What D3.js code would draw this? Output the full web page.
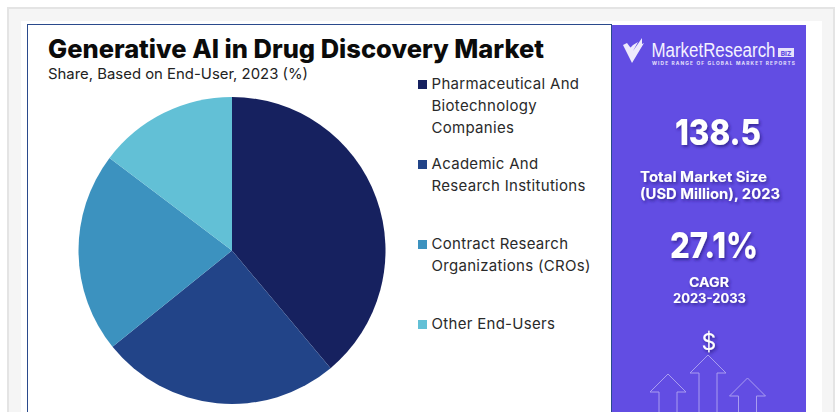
<!DOCTYPE html>
<html>
<head>
<meta charset="utf-8">
<script src="https://cdn.jsdelivr.net/npm/d3@7"></script>
<style>
html,body{margin:0;padding:0;background:#fff;overflow:hidden}
svg{display:block}
text{font-family:Inter,"Noto Sans",sans-serif}
</style>
</head>
<body>
<svg id="chart" width="836" height="412"></svg>
<script>
const categories = ["Pharmaceutical And Biotechnology Companies", "Academic And Research Institutions", "Contract Research Organizations (CROs)", "Other End-Users"];
const shares = [38.9, 25.3, 21.1, 14.7];
const legendLines = [["Pharmaceutical And", "Biotechnology", "Companies"], ["Academic And", "Research Institutions"], ["Contract Research", "Organizations (CROs)"], ["Other End-Users"]];
const statLines = ["138.5", "Total Market Size", "(USD Million), 2023", "27.1%", "CAGR", "2023-2033"];

// Layout and styling
const colors = ["#16215f", "#224488", "#3c92bf", "#62c0d6"];
const legendTops = [84, 164, 244, 324];
const statStyle = [
  {x: 675, y: 145, len: 86, size: 36, weight: 800},
  {x: 640, y: 182, len: 127, size: 14.5, weight: 700},
  {x: 640, y: 199, len: 140, size: 14.5, weight: 700},
  {x: 670, y: 258, len: 88, size: 36, weight: 800},
  {x: 689, y: 287, len: 40, size: 12.5, weight: 700},
  {x: 673, y: 303, len: 73, size: 12.5, weight: 700}
];
const arrowTops = [{cx: 668, top: 374}, {cx: 708, top: 355}, {cx: 747.5, top: 378}];

const svg = d3.select("#chart");
const defs = svg.append("defs");
const shadow = defs.append("filter").attr("id", "soft").attr("x", "-20%").attr("y", "-20%").attr("width", "150%").attr("height", "160%");
shadow.append("feDropShadow").attr("dx", 1.5).attr("dy", 2).attr("stdDeviation", 1.5).attr("flood-color", "#2b1f80").attr("flood-opacity", 0.75);

// Page frame and card
svg.append("rect").attr("x", 8).attr("y", 8).attr("width", 826).attr("height", 420).attr("fill", "#f5f5f5").attr("stroke", "#e4e4e4").attr("stroke-width", 2);
svg.append("rect").attr("x", 21).attr("y", 21).attr("width", 801).attr("height", 400).attr("fill", "#fff");
svg.append("rect").attr("x", 27.5).attr("y", 24.5).attr("width", 584).attr("height", 400).attr("fill", "#fff").attr("stroke", "#2a4a8c").attr("stroke-width", 1);
svg.append("rect").attr("x", 612).attr("y", 25).attr("width", 194).attr("height", 400).attr("fill", "#624de3");

// Headings
svg.append("text").attr("x", 48).attr("y", 58).attr("font-size", 25.5).attr("font-weight", 800).attr("fill", "#0b0b0b").attr("textLength", 496).attr("lengthAdjust", "spacingAndGlyphs").text("Generative AI in Drug Discovery Market");
svg.append("text").attr("x", 48).attr("y", 79).attr("font-size", 14.5).attr("font-weight", 400).attr("fill", "#222").attr("textLength", 260).attr("lengthAdjust", "spacingAndGlyphs").text("Share, Based on End-User, 2023 (%)");

// Pie
const pie = d3.pie().sort(null).value(d => d);
const arc = d3.arc().innerRadius(0).outerRadius(153.5);
svg.append("g").attr("transform", "translate(232,250.5)")
  .selectAll("path").data(pie(shares)).join("path")
  .attr("d", arc)
  .attr("fill", (d, i) => colors[i]);

// Legend
const legend = svg.append("g").selectAll("g").data(categories).join("g")
  .attr("transform", (d, i) => `translate(0,${legendTops[i]})`);
legend.append("rect").attr("x", 418).attr("y", -4).attr("width", 9).attr("height", 9).attr("fill", (d, i) => colors[i]);
legend.each(function(d, i) {
  d3.select(this).selectAll("text").data(legendLines[i]).join("text")
    .attr("x", 431.5)
    .attr("y", (l, j) => 5 + j * 22)
    .attr("font-size", 15)
    .attr("fill", "#2a2a2a")
    .attr("letter-spacing", 0.3)
    .text(l => l);
});

// Brand mark
const brand = svg.append("g");
brand.append("path").attr("d", "M623 45 L627 43 L633 51 L642 38 L642 44 L644 43 L632 63 Z M630 48 L633 45 L638 42 L633 51Z").attr("fill", "#eeeafc");
brand.append("text").attr("transform", "translate(651.5,57) scale(1,1.15)").attr("font-size", 17).attr("fill", "#f4f2ff").attr("style", "font-family:'Liberation Sans',sans-serif").attr("textLength", 124).attr("lengthAdjust", "spacingAndGlyphs").text("MarketResearch");
brand.append("rect").attr("x", 778).attr("y", 48).attr("width", 16).attr("height", 9).attr("fill", "#e6e2fb");
brand.append("text").attr("x", 786).attr("y", 55.5).attr("font-size", 6.5).attr("font-weight", 800).attr("text-anchor", "middle").attr("fill", "#624de3").text("BIZ");
brand.append("text").attr("x", 652).attr("y", 65).attr("font-size", 4.8).attr("font-weight", 700).attr("fill", "#e6e2fb").attr("textLength", 143).attr("lengthAdjust", "spacing").text("WIDE RANGE OF GLOBAL MARKET REPORTS");

// Statistics column
svg.append("g").selectAll("text").data(statLines).join("text")
  .attr("x", (d, i) => statStyle[i].x).attr("y", (d, i) => statStyle[i].y)
  .attr("font-size", (d, i) => statStyle[i].size).attr("font-weight", (d, i) => statStyle[i].weight)
  .attr("textLength", (d, i) => statStyle[i].len).attr("lengthAdjust", "spacingAndGlyphs")
  .attr("fill", "#fff").attr("filter", "url(#soft)")
  .text(d => d);

svg.append("text").attr("x", 709).attr("y", 350).attr("text-anchor", "middle").attr("font-size", 23).attr("fill", "#fff").attr("filter", "url(#soft)").text("$");

// Outline arrows along the foot of the panel
svg.append("g").selectAll("path").data(arrowTops).join("path")
  .attr("d", d => `M${d.cx - 9} 420 V${d.top + 18} H${d.cx - 18} L${d.cx} ${d.top} L${d.cx + 18} ${d.top + 18} H${d.cx + 9} V420`)
  .attr("fill", "none").attr("stroke", "#a99df0").attr("stroke-width", 1);
</script>
</body>
</html>
